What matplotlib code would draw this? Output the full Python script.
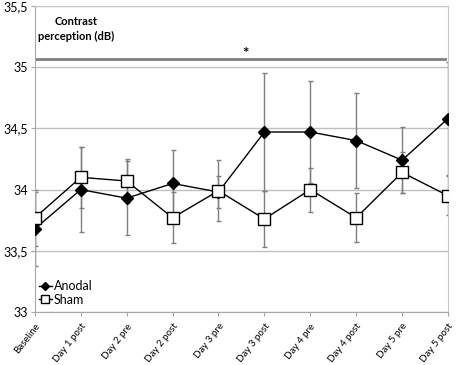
import matplotlib
matplotlib.use('Agg')
import matplotlib.pyplot as plt

plt.rcParams['font.family'] = ['Lato', 'DejaVu Sans']

# sessions along the x axis
sessions = ['Baseline', 'Day 1 post', 'Day 2 pre', 'Day 2 post', 'Day 3 pre',
            'Day 3 post', 'Day 4 pre', 'Day 4 post', 'Day 5 pre', 'Day 5 post']

# contrast perception (dB), mean and error
anodal = [33.68, 34.00, 33.93, 34.05, 33.98, 34.47, 34.47, 34.40, 34.24, 34.58]
anodal_err = [0.30, 0.35, 0.30, 0.27, 0.13, 0.48, 0.42, 0.39, 0.27, 0.46]
sham = [33.77, 34.10, 34.07, 33.77, 33.99, 33.76, 34.00, 33.77, 34.14, 33.95]
sham_err = [0.23, 0.25, 0.18, 0.21, 0.25, 0.23, 0.18, 0.20, 0.17, 0.16]

yticks = [33, 33.5, 34, 34.5, 35, 35.5]
ytick_labels = ['33', '33,5', '34', '34,5', '35', '35,5']

x = list(range(len(sessions)))

fig = plt.figure(figsize=(4.59, 3.65), dpi=100)
ax = fig.add_axes([0.076, 0.145, 0.900, 0.839])

ax.errorbar(x, anodal, yerr=anodal_err, fmt='none', ecolor='#7f7f7f',
            elinewidth=1, capsize=1.8, capthick=1, zorder=2)
ax.errorbar(x, sham, yerr=sham_err, fmt='none', ecolor='#7f7f7f',
            elinewidth=1, capsize=1.8, capthick=1, zorder=2)
ax.plot(x, anodal, '-', color='black', lw=1, marker='D', markersize=6.5,
        markerfacecolor='black', markeredgecolor='black', label='Anodal', zorder=3)
ax.plot(x, sham, '-', color='black', lw=1, marker='s', markersize=8.5,
        markerfacecolor='white', markeredgecolor='black', markeredgewidth=1,
        label='Sham', zorder=4)

# significance bar
ax.plot([0, 8.93], [35.07, 35.07], color='#808080', lw=2, zorder=1)
ax.text(4.58, 35.11, '*', ha='center', va='center', fontsize=11, fontweight='bold')
ax.text(0.9, 35.31, 'Contrast\nperception (dB)', ha='center', va='center',
        fontsize=8, fontweight='bold', linespacing=1.5)

ax.set_xlim(0, 9)
ax.set_ylim(33, 35.5)
ax.set_yticks(yticks)
ax.set_yticklabels(ytick_labels, fontsize=9)
ax.set_xticks(x)
ax.set_xticklabels(sessions, fontsize=7, rotation=52, ha='right',
                   rotation_mode='anchor')
ax.tick_params(axis='both', length=3, color='#a6a6a6', pad=2)
ax.tick_params(axis='x', pad=4)
ax.grid(axis='y', color='#bfbfbf', lw=1)
ax.set_axisbelow(True)
for side in ['left', 'bottom']:
    ax.spines[side].set_color('#a6a6a6')
for side in ['top', 'right']:
    ax.spines[side].set_color('#c8c8c8')

ax.legend(loc='lower left', bbox_to_anchor=(-0.005, 0.0), frameon=False,
          fontsize=9, handlelength=1.0, handletextpad=0.2, borderpad=0,
          labelspacing=0.15, markerscale=0.7)

fig.savefig('out.png', dpi=100)
